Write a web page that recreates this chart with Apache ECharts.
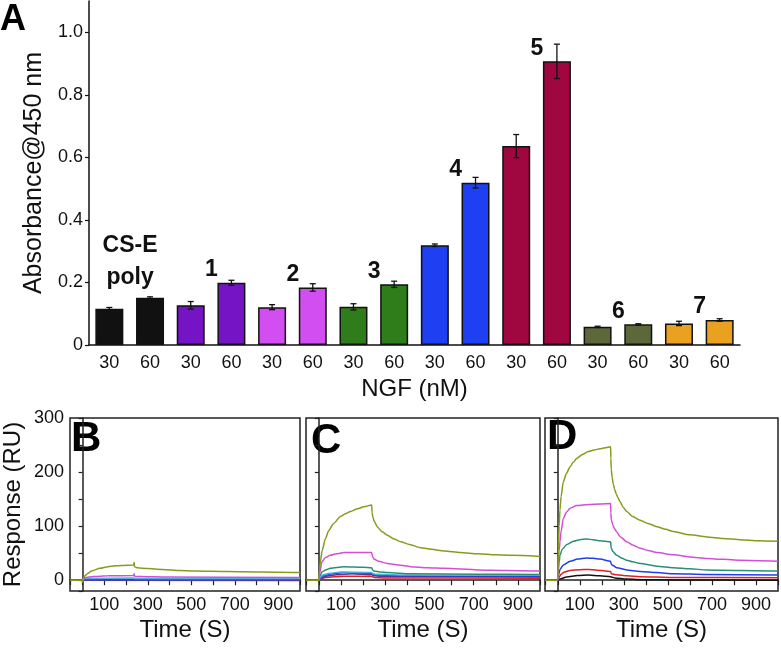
<!DOCTYPE html>
<html>
<head>
<meta charset="utf-8">
<script src="https://cdn.jsdelivr.net/npm/echarts@6/dist/echarts.min.js"></script>
<style>html,body{margin:0;padding:0;background:#fff}#c{width:781px;height:650px}</style>
</head>
<body>
<div id="c"></div>
<script>
// ---------- Panel A data ----------
const categories = ['30','60','30','60','30','60','30','60','30','60','30','60','30','60','30','60'];
const groups = ['CS-E\npoly','1','2','3','4','5','6','7'];
const absorbance = [0.116,0.151,0.127,0.199,0.121,0.184,0.122,0.194,0.319,0.519,0.636,0.907,0.058,0.066,0.069,0.080];
const absError = [0.004,0.003,0.012,0.008,0.008,0.012,0.010,0.010,0.004,0.017,0.037,0.055,0.002,0.002,0.007,0.004];
const groupColors = ['#111111','#7414c4','#d24ef0','#2f7d1a','#1f3ff2','#a0063f','#5c673a','#e9a11f'];
const absTicks = [0,0.2,0.4,0.6,0.8,1.0];

// ---------- SPR sensorgrams (time s, response RU) ----------
const B_olive   = [[-58,0],[-2,0],[0,-4],[3,3],[10,8],[25,13],[41,17],[80,22],[117,25],[150,26.5],[178,27],[235,28],[237,33],[239,25],[250,23],[300,21.5],[366,20],[450,18],[517,17],[669,16],[820,15],[1000,14]];
const B_magenta = [[0,0],[5,3],[10,5],[50,7],[117,8],[235,8.5],[237,12],[240,7],[300,6.5],[366,6],[1000,5]];
const B_cyan    = [[0,0],[10,3],[235,4],[240,3],[1000,3]];
const B_blue    = [[0,0],[10,0.5],[1000,0.5]];
const B_red     = [[0,0],[1000,-0.5]];

const C_olive   = [[-58,0],[0,0],[3,18],[7,34],[15,55],[30,77],[45,92],[67,105],[98,118],[120,123],[143,127],[175,132],[204,136],[239,139],[241,125],[245,115],[252,108],[264,99],[285,90],[310,83],[340,76],[370,71],[410,66],[461,60],[510,57],[567,54],[640,51],[719,49],[800,47],[870,46],[1000,44]];
const C_magenta = [[0,0],[5,15],[14,34],[30,42],[52,46],[80,49],[113,51],[239,51],[243,44],[249,39],[270,35],[310,31],[360,28],[416,25],[490,23],[567,22],[719,19],[850,18],[1000,17]];
const C_teal    = [[0,0],[5,8],[14,15],[30,19],[52,22],[113,25],[200,24],[239,23],[243,19],[249,17],[280,15],[310,14],[416,12],[719,11],[1000,10.5]];
const C_cyan    = [[0,0],[8,6],[20,10],[50,13],[100,15],[239,14],[245,12],[260,11],[416,9.5],[1000,9]];
const C_blue    = [[0,0],[8,5],[20,8],[60,12],[113,14],[239,13],[245,11],[260,9.5],[416,8],[1000,7.5]];
const C_purple  = [[0,0],[10,4],[30,7],[80,10],[150,12],[239,10],[250,8],[300,7],[1000,6]];
const C_red     = [[0,0],[10,3],[30,5],[113,7.5],[239,7],[250,5],[300,4],[1000,3.5]];

const D_olive   = [[-58,0],[0,0],[3,60],[6,100],[10,130],[15,155],[25,182],[40,198],[56,210],[70,218],[86,225],[110,232],[139,238],[165,241],[192,243],[215,245],[240,247],[241,225],[243,205],[247,190],[252,178],[258,168],[265,160],[274,152],[283,145],[297,135],[313,127],[340,118],[374,111],[410,105],[450,99],[490,94],[525,90],[600,84],[677,80],[750,77],[829,75],[910,73],[1000,72]];
const D_magenta = [[0,0],[3,35],[6,55],[10,71],[15,90],[25,114],[40,126],[56,133],[86,138],[139,140],[192,141],[240,142],[241,125],[243,112],[250,102],[258,95],[268,89],[285,80],[313,71],[340,65],[374,59],[410,55],[450,51],[525,47],[600,43],[677,40],[750,38.5],[829,37],[1000,35]];
const D_teal    = [[0,0],[3,20],[6,33],[10,46],[20,57],[41,66],[71,72],[100,75],[131,76],[160,75],[192,73],[240,71],[242,60],[250,53],[268,46],[290,41],[313,37],[340,34],[374,31],[450,26],[525,23],[600,21],[677,19],[829,18],[1000,17]];
const D_blue    = [[0,0],[4,10],[10,20],[25,28],[56,35],[90,39],[131,41],[160,40.5],[192,39],[240,35],[242,30],[250,27],[268,23],[313,19],[374,16],[450,14],[525,12],[677,10.5],[1000,9.5]];
const D_red     = [[0,0],[5,5],[15,11],[30,15],[56,18],[100,19.5],[139,20],[180,18.5],[215,17],[240,16],[243,12],[268,10],[313,8],[374,6.5],[525,5],[1000,4.3]];
const D_black   = [[0,0],[10,2],[40,6],[90,8.5],[139,9.5],[190,8],[240,6.5],[260,4],[313,2],[400,1],[525,0.5],[1000,0]];

const lineColors = {olive:'#8a9a1c', magenta:'#d44ed8', teal:'#2a9075', cyan:'#44b6d8', blue:'#1f3ee8', purple:'#6d2a9a', red:'#e02020', black:'#111111'};
const panels = [
  {letter:'B', series:[['red',B_red],['blue',B_blue],['cyan',B_cyan],['magenta',B_magenta],['olive',B_olive]]},
  {letter:'C', series:[['red',C_red],['purple',C_purple],['blue',C_blue],['cyan',C_cyan],['teal',C_teal],['magenta',C_magenta],['olive',C_olive]]},
  {letter:'D', series:[['black',D_black],['red',D_red],['blue',D_blue],['teal',D_teal],['magenta',D_magenta],['olive',D_olive]]}
];
const timeLabels = [100,300,500,700,900];
const respLabels = [0,100,200,300];

const FF = '"Liberation Sans", Arial, Helvetica, sans-serif';
const chart = echarts.init(document.getElementById('c'), null, {renderer:'canvas'});

const grids = [
  {left:89, top:1, width:651, height:344},
  {left:68, top:418, width:232, height:173, show:true, borderColor:'#222', borderWidth:1.5, backgroundColor:'transparent'},
  {left:306, top:418, width:234, height:173, show:true, borderColor:'#222', borderWidth:1.5, backgroundColor:'transparent'},
  {left:545, top:418, width:233, height:173, show:true, borderColor:'#222', borderWidth:1.5, backgroundColor:'transparent'}
];

const xAxes = [
  {type:'category', gridIndex:0, data:categories, position:'bottom',
   axisLine:{lineStyle:{color:'#111', width:1.5}},
   axisTick:{interval:0, length:3, lineStyle:{color:'#111', width:1.2}},
   axisLabel:{interval:0, fontSize:18, color:'#111', margin:9, fontFamily:FF},
   name:'NGF (nM)', nameLocation:'middle', nameGap:31,
   nameTextStyle:{fontSize:24, color:'#111', fontFamily:FF}},
  {type:'category', gridIndex:0, data:groups, position:'bottom',
   axisLine:{show:false}, axisLabel:{show:false},
   axisTick:{interval:0, length:8, lineStyle:{color:'#111', width:1.5}}}
];
const yAxes = [
  {type:'value', gridIndex:0, min:0, max:1.1, interval:0.2,
   axisLine:{show:true, lineStyle:{color:'#111', width:1.5}},
   axisTick:{show:true, length:4, lineStyle:{color:'#111', width:1.2}},
   splitLine:{show:false},
   axisLabel:{fontSize:18, color:'#111', margin:6, fontFamily:FF, showMaxLabel:false,
     formatter:v => { const hit = absTicks.find(t => Math.abs(t - v) < 1e-6); return hit === undefined ? '' : (hit === 0 ? '0' : hit.toFixed(1)); }},
   name:'Absorbance@450 nm', nameLocation:'middle', nameGap:38,
   nameTextStyle:{fontSize:25, color:'#111', fontFamily:FF}}
];

panels.forEach((p, k) => {
  const gi = k + 1;
  xAxes.push({type:'value', gridIndex:gi, min:-58, max:1000, splitNumber:10,
    axisLine:{show:true, lineStyle:{color:'#222', width:1.5}},
    axisTick:{show:true, length:5, lineStyle:{color:'#222', width:1.2}},
    splitLine:{show:false},
    axisLabel:{fontSize:18, color:'#111', margin:5, fontFamily:FF, showMinLabel:true, showMaxLabel:true,
      formatter:v => timeLabels.indexOf(Math.round(v)) >= 0 && Math.abs(v - Math.round(v)) < 1e-6 ? String(Math.round(v)) : ''},
    name:'Time (S)', nameLocation:'middle', nameGap:27,
    nameTextStyle:{fontSize:24, color:'#111', fontFamily:FF}});
  yAxes.push({type:'value', gridIndex:gi, min:-20, max:300, splitNumber:6,
    axisLine:{show:true, lineStyle:{color:'#222', width:1.5}},
    axisTick:{show:true, length:4, lineStyle:{color:'#222', width:1.2}},
    splitLine:{show:false},
    axisLabel:{show:k===0, fontSize:18, color:'#111', margin:6, fontFamily:FF,
      formatter:v => respLabels.indexOf(v) >= 0 ? String(v) : ''},
    name: k===0 ? 'Response (RU)' : '', nameLocation:'middle', nameGap:45,
    nameTextStyle:{fontSize:24, color:'#111', fontFamily:FF}});
});

const series = [];
series.push({
  type:'bar', xAxisIndex:0, yAxisIndex:0, barWidth:28,
  data: absorbance.map((v, i) => {
    const g = Math.floor(i/2);
    const twoLine = groups[g].indexOf('\n') >= 0;
    return {
      value:v,
      itemStyle:{color:groupColors[g], borderColor:'#111', borderWidth:1.5},
      label: i % 2 === 1 ? {show:true, position:'top', distance: twoLine ? 4 : 1, offset:[-20, 0],
        formatter: groups[g], fontSize:23, fontWeight:'bold', color:'#111',
        fontFamily:FF, lineHeight: twoLine ? 32 : 24} : {show:false}
    };
  })
});
series.push({
  type:'custom', xAxisIndex:0, yAxisIndex:0, z:5,
  data: absorbance.map((v, i) => [i, v, absError[i]]),
  renderItem: (params, api) => {
    const i = api.value(0), v = api.value(1), e = api.value(2);
    const hi = api.coord([i, v + e]), lo = api.coord([i, v - e]);
    const w = 3;
    const st = {stroke:'#111', lineWidth:1.3};
    return {type:'group', children:[
      {type:'line', shape:{x1:hi[0], y1:hi[1], x2:lo[0], y2:lo[1]}, style:st},
      {type:'line', shape:{x1:hi[0]-w, y1:hi[1], x2:hi[0]+w, y2:hi[1]}, style:st},
      {type:'line', shape:{x1:lo[0]-w, y1:lo[1], x2:lo[0]+w, y2:lo[1]}, style:st}
    ]};
  }
});

panels.forEach((p, k) => {
  p.series.forEach(([c, d]) => {
    series.push({type:'line', xAxisIndex:k+2, yAxisIndex:k+1, data:d, showSymbol:false,
      smooth:0.25, smoothMonotone:'x', clip:true,
      lineStyle:{color:lineColors[c], width:1.5}, itemStyle:{color:lineColors[c]}});
  });
});

const letterStyle = (txt, size) => ({text:txt, fontSize:size, fontWeight:'bold', fill:'#000', fontFamily:FF});
chart.setOption({
  animation:false,
  backgroundColor:'#fff',
  textStyle:{fontFamily:FF},
  grid:grids, xAxis:xAxes, yAxis:yAxes, series:series,
  graphic:[
    {type:'text', left:0, top:2, style:letterStyle('A', 36)},
    {type:'text', left:71, top:418, style:letterStyle('B', 42)},
    {type:'text', left:311, top:420, style:letterStyle('C', 42)},
    {type:'text', left:547, top:416, style:letterStyle('D', 42)}
  ]
});
</script>
</body>
</html>
